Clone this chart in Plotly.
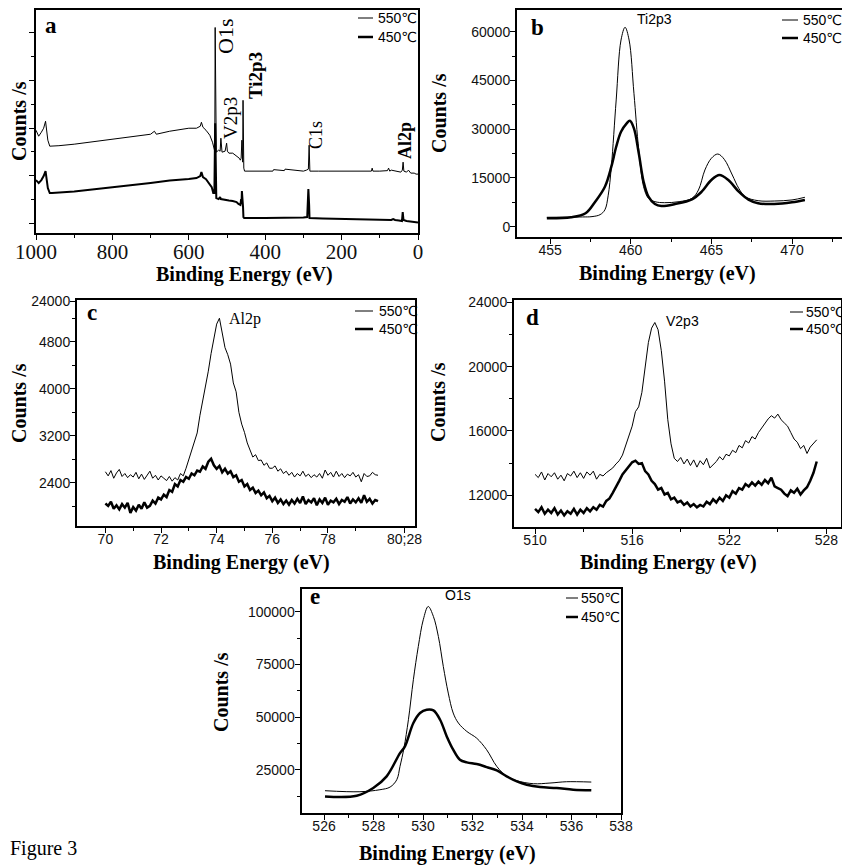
import plotly.graph_objects as go

# the page body has an 8px margin, so the figure is drawn 8px in from the window corner
OFF = 8
W, H = 850 - OFF, 867 - OFF

# ---------------- data ----------------
# (a) survey spectra (Counts/s, arbitrary scale)
a_x_550 = [1000, 993, 986, 980, 975, 973, 969, 964, 958, 940, 900, 850, 800, 750, 700, 690, 685, 650, 620, 600,
           580, 570, 567, 563, 555, 545, 538, 534, 532, 531, 530, 528, 522, 518, 516, 513, 505, 501, 499, 495,
           485, 475, 468, 465, 463, 461, 459, 458, 457, 456, 454, 440, 400, 380, 378, 350, 348, 300, 292, 287,
           285, 283, 260, 200, 150, 122, 120, 118, 100, 80, 77, 74, 70, 60, 45, 41, 39, 37, 30, 25,
           22, 19, 10, 5, 0]
a_y_550 = [39060, 36540, 38220, 39900, 42840, 40320, 34860, 32340, 32340, 32550, 33180, 34230, 35280, 36330, 37380, 38640, 37380, 38640, 39480, 39900,
           39900, 40740, 42420, 40320, 39060, 36960, 34020, 30660, 30240, 82320, 32760, 29820, 30660, 30240, 35700, 29820, 30240, 33600, 30240, 29400,
           29400, 28140, 27300, 26460, 27300, 34860, 25620, 51660, 24360, 23100, 21840, 21840, 21840, 21840, 22470, 22050, 22680, 21840, 22260, 22680,
           32760, 21840, 21840, 21840, 21840, 21840, 23100, 21840, 21840, 22050, 23100, 21840, 22260, 21840, 21420, 22260, 25620, 21840, 21420, 22260,
           21420, 21000, 21000, 20580, 20580]
a_x_450 = [1000, 993, 986, 980, 975, 973, 969, 964, 958, 900, 850, 800, 750, 700, 650, 620, 600, 580, 570,
           567, 563, 555, 548, 540, 536, 533, 531, 530, 528, 522, 518, 516, 505, 495, 485, 475, 470, 465, 463,
           462, 461, 460, 459, 458, 457, 455, 400, 350, 300, 290, 287, 285, 284, 250, 200, 150, 100, 80, 70,
           65, 60, 50, 42, 40, 38, 30, 20, 10, 0]
a_y_450 = [18060, 16800, 18060, 19740, 21840, 19320, 14700, 12600, 12600, 13230, 14070, 14910, 15960, 16800, 17850, 18060, 18480, 18900, 19740,
           21420, 19320, 18480, 16800, 15120, 12600, 12600, 42000, 13860, 10500, 10080, 10920, 10080, 9660, 9450, 9240, 8820, 7980, 7560, 10080,
           7980, 13440, 7140, 11760, 6720, 2520, 2100, 2100, 2100, 2310, 2520, 14280, 7560, 2100, 1890, 1680, 1680, 1470, 1470, 1260,
           1680, 1260, 1050, 840, 4620, 1260, 840, 630, 420, 210]

# (b) Ti2p3
b_x_550 = [454.8, 457.0, 457.6, 458.1, 458.4, 458.6, 458.8, 459.1, 459.4, 459.65, 459.9, 460.2, 460.5, 460.8, 461.1, 461.5,
           462.1, 463.0, 463.8, 464.2, 464.6, 465.0, 465.4, 465.8, 466.3, 466.7, 467.1, 467.9, 468.9, 470.0, 470.8]
b_y_550 = [2900, 3000, 3100, 3700, 5200, 9500, 18500, 39000, 57450, 61350, 57450, 41050, 23600, 12300, 8740, 7700,
           7390, 7700, 8740, 11290, 17450, 21050, 22370, 20740, 15900, 11800, 9230, 8000, 7900, 8230, 9050]
b_x_450 = [454.8, 456.3, 457.2, 457.8, 458.4, 458.8, 459.1, 459.4, 459.75, 459.95, 460.2, 460.5, 460.8, 461.1, 461.5, 461.9,
           462.75, 463.8, 464.4, 465.0, 465.5, 466.05, 466.7, 467.3, 467.9, 468.9, 470.0, 470.8]
b_y_450 = [2580, 2890, 4120, 7700, 12300, 18460, 24600, 29200, 31800, 32600, 30270, 22580, 13850, 9230, 6980, 6370,
           6980, 8420, 10770, 14370, 15900, 14370, 10770, 8320, 7200, 6980, 7500, 8230]

# (c) Al2p, 0.1 eV steps from 70.0 eV
c_start, c_step = 70.0, 0.1
c_y_550 = [2590, 2520, 2610, 2480, 2570, 2630, 2510, 2560, 2490, 2540,
           2500, 2580, 2470, 2550, 2460, 2540, 2600, 2480, 2530, 2450,
           2520, 2480, 2440, 2510, 2430, 2490, 2450, 2560, 2520, 2650,
           2800, 2950, 3080, 3250, 3550, 3800, 4000, 4300, 4600, 4820,
           5100, 5200, 4950, 4700, 4580, 4420, 4100, 3950, 3600, 3400,
           3260, 3080, 2960, 2840, 2880, 2780, 2790, 2700, 2740, 2650,
           2650, 2690, 2600, 2640, 2560, 2600, 2530, 2580, 2500, 2560,
           2520, 2600, 2510, 2550, 2490, 2540, 2500, 2560, 2480, 2620,
           2530, 2580, 2500, 2600, 2510, 2560, 2490, 2550, 2520, 2580,
           2500, 2540, 2420, 2560, 2510, 2520, 2580, 2540, 2530]
c_y_450 = [2050, 2010, 2080, 1960, 2020, 1950, 2040, 1980, 2060, 1890,
           1990, 1930, 2030, 1960, 2070, 1980, 2010, 2100, 2050, 2150,
           2120, 2200, 2160, 2280, 2250, 2380, 2340, 2450, 2420, 2500,
           2470, 2560, 2530, 2610, 2590, 2680, 2640, 2760, 2810, 2700,
           2640, 2690, 2580, 2640, 2560, 2600, 2500, 2530, 2420, 2450,
           2340, 2380, 2280, 2320, 2230, 2270, 2190, 2240, 2140, 2180,
           2090, 2150, 2060, 2120, 2040, 2100, 2030, 2110, 2050, 2130,
           2060, 2170, 2040, 2110, 2070, 2140, 2020, 2120, 2060, 2150,
           2030, 2100, 2070, 2130, 2040, 2110, 2080, 2160, 2050, 2120,
           2070, 2140, 2060, 2190, 2080, 2130, 2050, 2110, 2090]

# (d) V2p3, 0.2 eV steps from 510.0 eV
d_start, d_step = 510.0, 0.2
d_y_550 = [13300, 13100, 13450, 12950, 13350, 13150, 13400, 13000, 13250, 12900,
           13350, 13200, 13500, 13100, 13400, 13050, 13450, 13250, 13500, 13000,
           13300, 13200, 13400, 13550, 13700, 13950, 14150, 14500, 15100, 15700,
           16300, 17200, 17500, 18400, 20100, 21500, 22400, 22750, 22300, 21000,
           19100, 16700, 15200, 14300, 14100, 14350, 13950, 14250, 13850, 14200,
           13750, 14150, 13900, 14300, 13700, 13900, 14100, 14400, 14200, 14550,
           14450, 14800, 14650, 15100, 14950, 15400, 15250, 15650, 15500, 15900,
           16200, 16500, 16750, 16950, 16800, 17050, 16700, 16500, 16300, 15900,
           15500, 15300, 14900, 15100, 14600, 15000, 15250, 15450]
d_y_450 = [11150, 10950, 11250, 10850, 11100, 10900, 11200, 10800, 11050, 10750,
           11000, 10850, 11150, 10800, 11100, 10900, 11200, 11000, 11250, 11100,
           11400, 11300, 11650, 11800, 12150, 12500, 12900, 13300, 13550, 13850,
           14050, 14150, 13950, 14000, 13500, 13300, 12900, 12700, 12350, 12450,
           12050, 12150, 11750, 11850, 11550, 11650, 11400, 11550, 11300, 11450,
           11250, 11400, 11300, 11600, 11450, 11750, 11550, 11850, 11650, 12000,
           11850, 12250, 12100, 12450, 12350, 12700, 12550, 12800, 12600, 12850,
           12650, 12950, 12750, 13100, 12550, 12450, 12350, 12100, 11950, 12300,
           12150, 12400, 12050, 12300, 12500, 12900, 13400, 14100]

# (e) O1s
e_x_550 = [526.04, 527.45, 528.26, 528.67, 528.94, 529.07, 529.23, 529.41, 529.61, 529.81, 530.01, 530.21, 530.42,
           530.62, 530.82, 531.02, 531.22, 531.43, 531.77, 532.17, 532.57, 532.98, 533.38, 533.79, 534.46, 535.13,
           535.8, 536.8]
e_y_550 = [15040, 14560, 15510, 16770, 20256, 26580, 35290, 48720, 67700, 83500, 96160, 102470, 97720,
           88240, 74000, 61380, 51900, 47150, 43170, 39960, 34490, 26580, 21840, 19780, 18360, 18680,
           19300, 19150]
e_x_450 = [526.04, 527.32, 527.99, 528.53, 529.07, 529.27, 529.61, 529.88, 530.15, 530.42, 530.69, 530.96, 531.22,
           531.49, 531.77, 532.17, 532.57, 532.98, 533.38, 533.79, 534.19, 534.73, 535.4, 536.07, 536.8]
e_y_450 = [12350, 12670, 16310, 21840, 32900, 36060, 47150, 51900, 53460, 53150, 48720, 40800, 34490,
           29740, 28470, 27680, 26260, 24680, 21840, 19460, 17880, 16770, 16310, 15510, 15200]

series_names = ["550℃", "450℃"]

c_x = [round(c_start + c_step * i, 3) for i in range(len(c_y_550))]
d_x = [round(d_start + d_step * i, 3) for i in range(len(d_y_550))]

# ---------------- figure ----------------
SERIF = "Liberation Serif, Times New Roman, serif"
SANS = "Liberation Sans, Arial, sans-serif"
LEG = "Liberation Sans, DejaVu Sans, Arial, sans-serif"


def X(px):
    return (px - OFF) / W


def Y(py):
    return 1 - (py - OFF) / H


fig = go.Figure()


def add(x, y, ax, width, shape="linear"):
    fig.add_trace(go.Scatter(x=x, y=y, mode="lines", xaxis="x" + ax, yaxis="y" + ax,
                             line=dict(color="black", width=width, shape=shape),
                             hoverinfo="skip", showlegend=False))


add(a_x_550, a_y_550, "", 1)
add(a_x_450, a_y_450, "", 2)
add(b_x_550, b_y_550, "2", 1, "spline")
add(b_x_450, b_y_450, "2", 2.5, "spline")
add(c_x, c_y_550, "3", 1)
add(c_x, c_y_450, "3", 2.5)
add(d_x, d_y_550, "4", 1)
add(d_x, d_y_450, "4", 2.5)
add(e_x_550, e_y_550, "5", 1, "spline")
add(e_x_450, e_y_450, "5", 2.5, "spline")

frames = {
    "a": (36, 418, 10, 233),
    "b": (517, 842, 10, 237),
    "c": (77, 415, 300, 526),
    "d": (514, 841, 300, 527),
    "e": (301.5, 621, 589, 813),
}


def axis_common(fontfam, fontsize, standoff):
    return dict(showline=True, mirror=True, linecolor="black", linewidth=2,
                ticks="outside", ticklen=5, tickwidth=1.2, tickcolor="black",
                showgrid=False, zeroline=False, autorange=False, automargin=False,
                ticklabelstandoff=standoff,
                tickfont=dict(family=fontfam, size=fontsize, color="#111"))


def xdom(k):
    l, r, t, b = frames[k]
    return [X(l), X(r)]


def ydom(k):
    l, r, t, b = frames[k]
    return [Y(b), Y(t)]


lay = dict(template="none", width=W, height=H, margin=dict(l=0, r=0, t=0, b=0, pad=0, autoexpand=False),
           paper_bgcolor="white", plot_bgcolor="white", showlegend=False)

MINOR = dict(ticks="outside", ticklen=3, tickcolor="black", tickwidth=1, showgrid=False)
XS = -6   # x tick label standoff (pull closer)
YS = -3   # y tick label standoff

# panel a
lay["xaxis"] = dict(axis_common(SERIF, 21, -6), domain=xdom("a"), anchor="y", range=[1000, 0],
                    tick0=0, dtick=200, minor=dict(MINOR, dtick=100))
lay["yaxis"] = dict(axis_common(SERIF, 20, 0), domain=ydom("a"), anchor="x", range=[-4210, 89680],
                    tick0=0, dtick=20000, showticklabels=False, minor=dict(MINOR, dtick=10000))
# panel b
lay["xaxis2"] = dict(axis_common(SANS, 14, XS), domain=xdom("b"), anchor="y2", range=[452.95, 473.1],
                     tick0=455, dtick=5, minor=dict(MINOR, dtick=2.5))
lay["yaxis2"] = dict(axis_common(SANS, 14, YS), domain=ydom("b"), anchor="x2", range=[-3170, 66680],
                     tick0=0, dtick=15000, tickformat="d", minor=dict(MINOR, dtick=7500))
# panel c
lay["xaxis3"] = dict(axis_common(SANS, 14, XS), domain=xdom("c"), anchor="y3", range=[68.98, 81.13],
                     tickmode="array", tickvals=[70, 72, 74, 76, 78, 80.75],
                     ticktext=["70", "72", "74", "76", "78", "80;28"],
                     minor=dict(MINOR, tickmode="array", tickvals=[71, 73, 75, 77, 79]))
lay["yaxis3"] = dict(axis_common(SANS, 14, YS), domain=ydom("c"), anchor="x3", range=[1668, 5510],
                     tickmode="array", tickvals=[2400, 3200, 4000, 4800, 5490],
                     ticktext=["2400", "3200", "4000", "4800", "24000"],
                     minor=dict(MINOR, tickmode="array", tickvals=[2000, 2800, 3600, 4400, 5200]))
# panel d
lay["xaxis4"] = dict(axis_common(SANS, 14, XS), domain=xdom("d"), anchor="y4", range=[508.7, 528.9],
                     tick0=510, dtick=6, minor=dict(MINOR, dtick=3))
lay["yaxis4"] = dict(axis_common(SANS, 14, YS), domain=ydom("d"), anchor="x4", range=[10025, 24150],
                     tick0=12000, dtick=4000, tickformat="d", minor=dict(MINOR, dtick=2000))
# panel e
lay["xaxis5"] = dict(axis_common(SANS, 14, XS), domain=xdom("e"), anchor="y5", range=[525.09, 538],
                     tick0=526, dtick=2, minor=dict(MINOR, dtick=1))
lay["yaxis5"] = dict(axis_common(SANS, 14, YS), domain=ydom("e"), anchor="x5", range=[4460, 110770],
                     tick0=0, dtick=25000, tickformat="d", minor=dict(MINOR, dtick=12500))

fig.update_layout(**lay)

ann = []
shapes = []


def text(px, py, s, fam=SERIF, size=20, bold=False, angle=0, xanchor="center"):
    ann.append(dict(x=X(px), y=Y(py), xref="paper", yref="paper", showarrow=False,
                    text=("<b>%s</b>" % s) if bold else s, textangle=angle,
                    xanchor=xanchor, yanchor="middle", borderpad=0,
                    font=dict(family=fam, size=size, color="black")))


# axis titles
for (yx, yy, xx, xy) in [(19, 121, 244, 275), (439, 113, 667, 274), (19, 403, 242, 562),
                         (438, 402, 668, 562), (221, 692, 448, 853)]:
    text(yx, yy, "Counts /s", size=20, bold=True, angle=-90)
    text(xx, xy, "Binding Energy (eV)", size=20, bold=True)

# panel letters
for (lx, ly, s) in [(51, 26, "a"), (537, 28, "b"), (92, 312, "c"), (532, 317, "d"), (315, 596, "e")]:
    text(lx, ly, s, size=23, bold=True)

# peak labels
text(226, 36, "O1s", size=22, angle=-90)
text(231, 118, "V2p3", size=19, angle=-90)
text(255, 75, "Ti2p3", size=19, bold=True, angle=-90)
text(316, 135, "C1s", size=18, angle=-90)
text(405, 141, "Al2p", size=18, bold=True, angle=-90)
text(654, 19, "Ti2p3", fam=SANS, size=14)
text(245, 319, "Al2p", fam=SERIF, size=16)
text(682, 321, "V2p3", fam=SANS, size=14)
text(458, 595, "O1s", fam=SANS, size=14)

# legends
for (l0, l1, tx, y1, y2) in [(358, 373, 377, 18, 37), (782, 798, 802, 20, 38), (355, 373, 378, 311, 329),
                             (790, 803, 805, 312, 329), (566, 578, 580, 598, 617)]:
    for yy, wdt, name in [(y1, 1, series_names[0]), (y2, 2.5, series_names[1])]:
        shapes.append(dict(type="line", xref="paper", yref="paper", x0=X(l0), x1=X(l1), y0=Y(yy), y1=Y(yy),
                           line=dict(color="black", width=wdt)))
        text(tx, yy, name, fam=LEG, size=14, xanchor="left")

text(9, 848, "Figure 3", size=20, xanchor="left")

fig.update_layout(annotations=ann, shapes=shapes)
fig.write_html("out.html")
